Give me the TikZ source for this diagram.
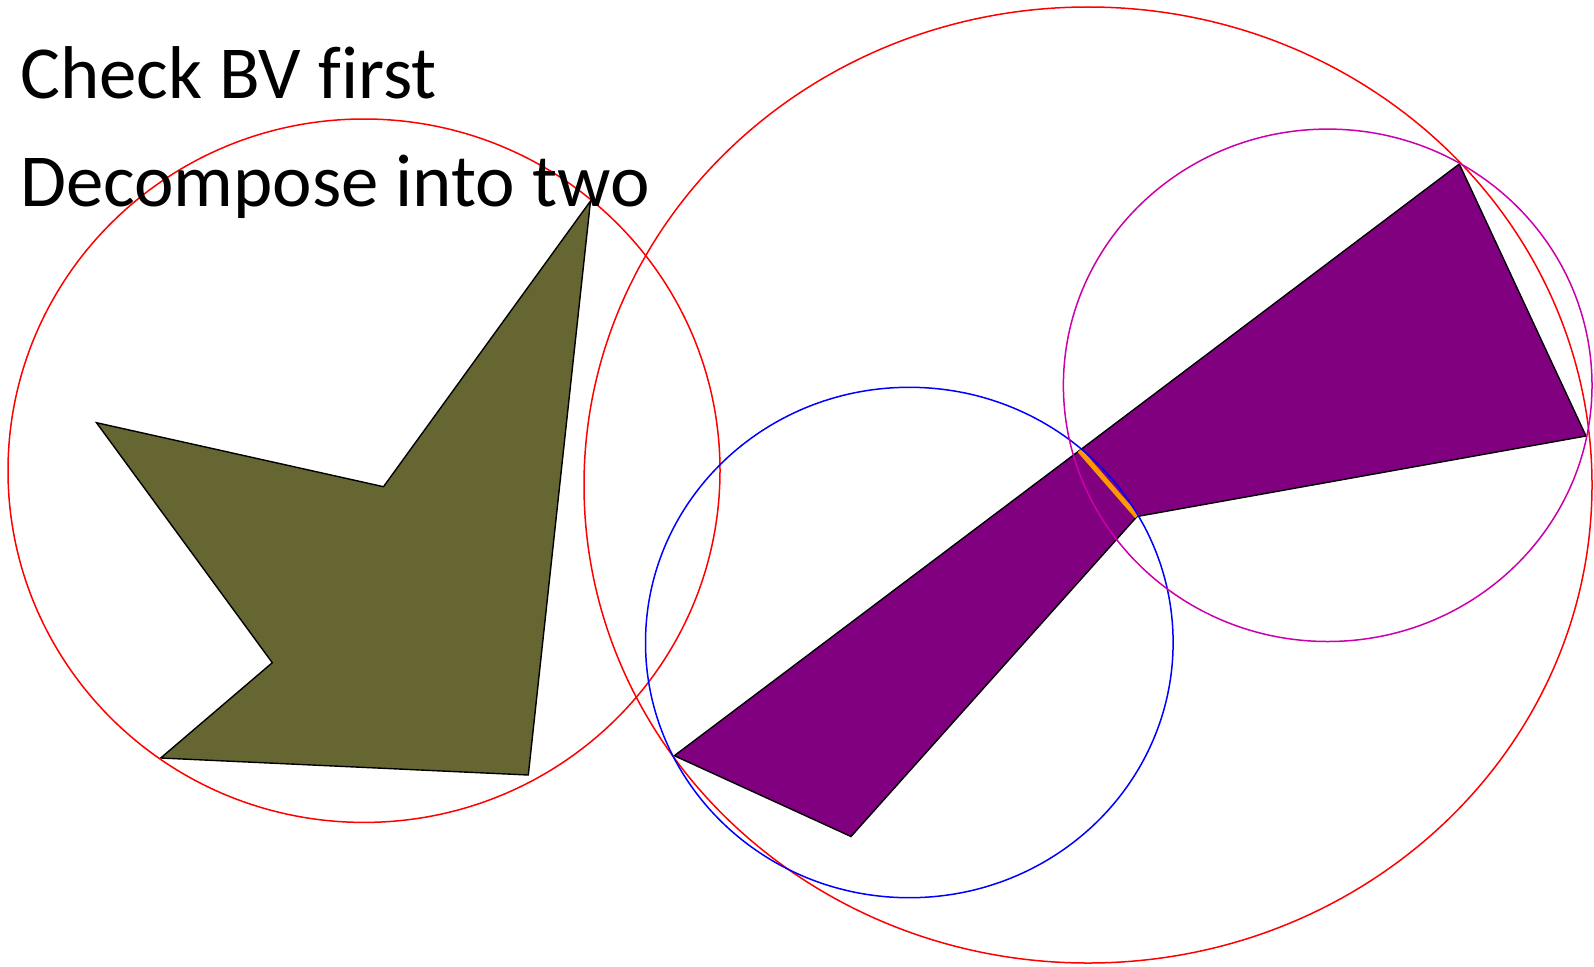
\documentclass[tikz,border=0pt]{standalone}
\usepackage{fontspec}
\setmainfont{Carlito}[Ligatures=CommonOff]
\definecolor{olivefill}{RGB}{102,102,51}
\definecolor{purplefill}{RGB}{128,0,128}
\definecolor{splitorange}{RGB}{255,153,0}
\definecolor{bvred}{RGB}{255,0,0}
\definecolor{bvblue}{RGB}{0,0,255}
\definecolor{bvmagenta}{RGB}{204,0,170}
\begin{document}
\begin{tikzpicture}[x=1pt,y=-1pt,
  bvline/.style={line width=1.5pt},
  shapeline/.style={draw=black, line width=1.4pt, line join=miter},
  label/.style={anchor=base west, inner sep=0pt, font=\fontsize{74.8}{89}\selectfont}]
\useasboundingbox (0,0) rectangle (1594,966);
% olive polygon
\coordinate (o1) at (96.5,422.7);
\coordinate (o2) at (383.5,486.7);
\coordinate (o3) at (590.5,201);
\coordinate (o4) at (528.3,775);
\coordinate (o5) at (160.7,758);
\coordinate (o6) at (272.3,662.7);
\fill[olivefill, shapeline] (o1) -- (o2) -- (o3) -- (o4) -- (o5) -- (o6) -- cycle;
% purple polygon (two parts)
\coordinate (p1) at (674.3,755.7);
\coordinate (p2) at (1079.5,450.5);
\coordinate (p3) at (1459.3,164);
\coordinate (p4) at (1586,436);
\coordinate (p5) at (1137,516.5);
\coordinate (p6) at (851,836.5);
\fill[purplefill, shapeline] (p1) -- (p2) -- (p3) -- (p4) -- (p5) -- (p6) -- cycle;
\draw[splitorange, line width=5pt] (p2) -- (p5);
% bounding volumes
\draw[bvline, bvred] (364,470.7) ellipse [x radius=356pt, y radius=351.7pt];
\draw[bvline, bvred] (1088,485) ellipse [x radius=504pt, y radius=478pt];
\draw[bvline, bvblue] (909.3,642.5) ellipse [x radius=263.8pt, y radius=255.2pt];
\draw[bvline, bvmagenta] (1327.7,385.3) ellipse [x radius=264.3pt, y radius=256.2pt];
% text
\node[label] (t1) at (20,98.6) {Check BV first};
\node[label] (t2) at (20,206.4) {Decompose into two};
\end{tikzpicture}
\end{document}
